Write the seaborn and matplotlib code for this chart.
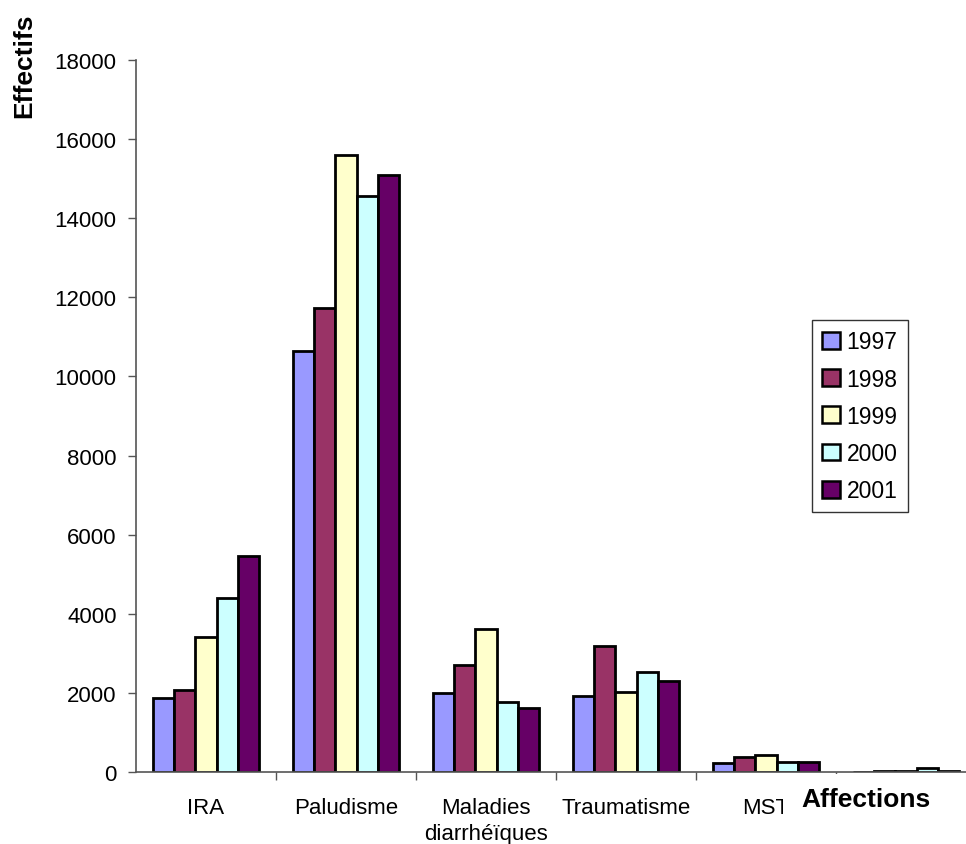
import matplotlib
matplotlib.use("Agg")
import matplotlib.pyplot as plt
from matplotlib.patches import Rectangle
import seaborn as sns
import pandas as pd

# Effectifs par affection et par année
affections = ["IRA", "Paludisme", "Maladies\ndiarrhéïques", "Traumatisme", "MST", ""]
annees = ["1997", "1998", "1999", "2000", "2001"]
v1997 = [1870, 10640, 1990, 1910, 240, 10]
v1998 = [2070, 11730, 2710, 3190, 390, 15]
v1999 = [3410, 15600, 3615, 2020, 440, 15]
v2000 = [4400, 14570, 1760, 2530, 245, 100]
v2001 = [5460, 15090, 1610, 2310, 260, 25]
couleurs = ["#9999FF", "#993366", "#FFFFCC", "#CCFFFF", "#660066"]
yticks = list(range(0, 18001, 2000))

series = [v1997, v1998, v1999, v2000, v2001]
df = pd.DataFrame(
    [(aff, an, val) for an, vals in zip(annees, series) for aff, val in zip(affections, vals)],
    columns=["Affections", "Année", "Effectifs"],
)

sns.set_style("white")
plt.rcParams["font.family"] = ["Liberation Sans", "DejaVu Sans"]
plt.rcParams.update({
    "text.color": "black", "axes.labelcolor": "black",
    "xtick.color": "black", "ytick.color": "black",
})

W, H = 966, 845
fig = plt.figure(figsize=(W / 100, H / 100), dpi=100)
ax = fig.add_axes([136 / W, (H - 773) / H, 840 / W, 712 / H])

sns.barplot(
    data=df, x="Affections", y="Effectifs", hue="Année",
    order=affections, hue_order=annees, palette=couleurs,
    saturation=1, width=0.76, edgecolor="black", linewidth=2,
    errorbar=None, ax=ax,
)

ax.set_xlim(-0.5, len(affections) - 0.5)
ax.set_ylim(0, 18000)
ax.set_yticks(yticks)
ax.set_yticklabels([str(t) for t in yticks], fontsize=16)
ax.tick_params(axis="y", direction="out", length=6, width=1, pad=8, left=True)

ax.set_xticks(range(len(affections)))
ax.set_xticklabels(affections, fontsize=16, linespacing=1.3)
ax.tick_params(axis="x", which="major", length=0, pad=18)
ax.set_xticks([i + 0.5 for i in range(len(affections) - 1)], minor=True)
ax.tick_params(axis="x", which="minor", direction="out", length=5.5, width=1, bottom=True)

for s in ["top", "right"]:
    ax.spines[s].set_visible(False)
for s in ["left", "bottom"]:
    ax.spines[s].set_color("#555555")
    ax.spines[s].set_linewidth(1.2)
ax.tick_params(which="both", color="#555555")

ax.set_xlabel("")
ax.set_ylabel("")

leg = ax.legend(
    loc="upper left", bbox_to_anchor=(812 / W, 1 - 321 / H), bbox_transform=fig.transFigure,
    borderaxespad=0, fontsize=16.5, frameon=True, fancybox=False, edgecolor="black",
    handlelength=0.75, handleheight=0.75, handletextpad=0.3, labelspacing=0.62,
    borderpad=0.45, title=None,
)
leg.get_frame().set_linewidth(1)
for h in leg.legend_handles:
    h.set_edgecolor("black")
    h.set_linewidth(1.8)

# titres des axes
fig.text(24 / W, 1 - 66 / H, "Effectifs", rotation=90, fontsize=19, fontweight="bold",
         ha="center", va="center")
fig.patches.append(Rectangle((783 / W, 0), (W - 783) / W, (H - 775) / H,
                             transform=fig.transFigure, facecolor="white",
                             edgecolor="none", zorder=5))
fig.text(866 / W, 1 - 800 / H, "Affections", fontsize=19, fontweight="bold",
         ha="center", va="center", zorder=6)

fig.savefig("out.png", dpi=100)
